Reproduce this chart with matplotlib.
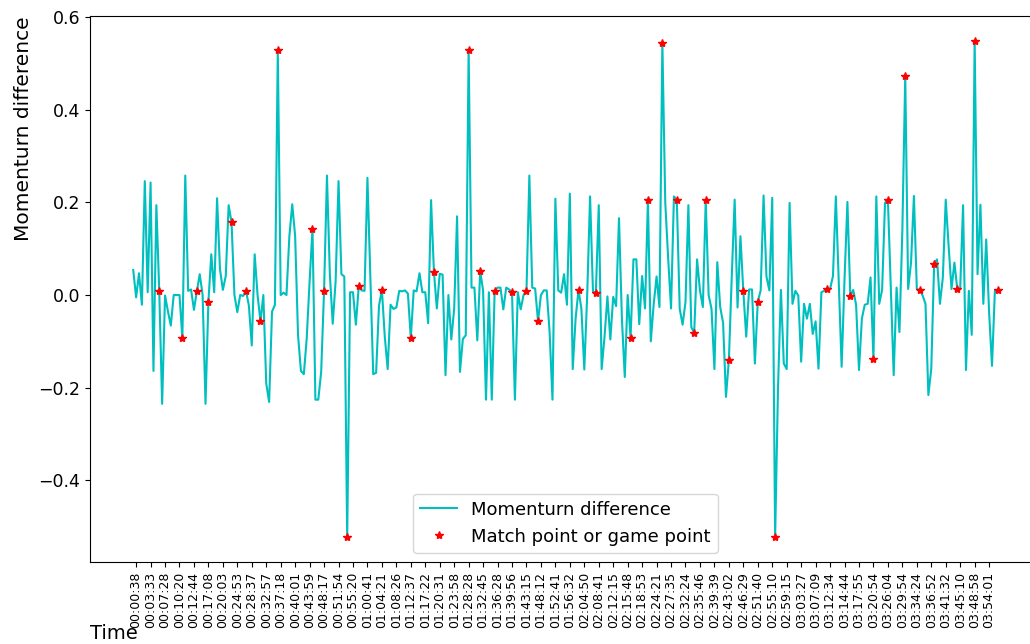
import matplotlib
matplotlib.use('Agg')
import matplotlib.pyplot as plt
import numpy as np

# momentum difference per point
momentum_diff = [
    0.054, -0.005, 0.047, -0.021, 0.246, 0.006, 0.243, -0.164, 0.194, 0.008,
    -0.235, -0.001, -0.035, -0.066, 0.0, 0.0, 0.0, -0.093, 0.258, 0.009,
    0.012, -0.032, 0.008, 0.045, 0.0, -0.235, -0.014, 0.088, 0.006, 0.209,
    0.056, 0.011, 0.041, 0.194, 0.157, 0.0, -0.037, 0.0, -0.002, 0.009,
    -0.023, -0.109, 0.088, 0.0, -0.057, 0.0, -0.191, -0.231, -0.036, -0.021,
    0.529, 0.0, 0.005, 0.0, 0.127, 0.196, 0.127, -0.087, -0.164, -0.171,
    -0.094, 0.03, 0.143, -0.226, -0.226, -0.166, 0.009, 0.258, 0.045, -0.062,
    0.03, 0.246, 0.045, 0.040, -0.523, 0.006, 0.006, -0.064, 0.019, 0.010,
    0.009, 0.253, 0.04, -0.171, -0.168, -0.023, 0.011, -0.09, -0.160, -0.021,
    -0.030, -0.027, 0.009, 0.008, 0.010, 0.003, -0.093, 0.010, 0.008, 0.047,
    0.006, 0.006, -0.061, 0.205, 0.050, -0.029, 0.046, 0.044, -0.173, 0.0,
    -0.096, -0.03, 0.170, -0.166, -0.095, -0.087, 0.529, 0.016, 0.016, -0.098,
    0.051, 0.01, -0.226, 0.006, -0.226, 0.009, 0.016, 0.016, -0.031, 0.016,
    0.012, 0.006, -0.226, 0.006, -0.031, 0.0, 0.008, 0.258, 0.016, 0.014,
    -0.057, 0.0, 0.010, 0.010, -0.08, -0.226, 0.208, 0.010, 0.005, 0.045,
    -0.021, 0.219, -0.160, -0.05, 0.011, -0.03, -0.161, 0.0, 0.213, 0.008,
    0.005, 0.194, -0.160, -0.09, -0.003, -0.096, -0.004, -0.024, 0.166, -0.05,
    -0.177, 0.0, -0.093, 0.077, 0.077, -0.063, 0.041, -0.029, 0.205, -0.100,
    -0.02, 0.040, -0.026, 0.545, 0.2, 0.08, -0.029, 0.213, 0.205, -0.03,
    -0.064, -0.015, 0.194, -0.069, -0.082, 0.077, 0.01, -0.026, 0.205, 0.0,
    -0.03, -0.160, 0.071, -0.026, -0.06, -0.220, -0.141, 0.04, 0.206, -0.027,
    0.127, 0.008, -0.09, 0.012, 0.012, -0.148, -0.014, 0.010, 0.215, 0.04,
    0.010, 0.210, -0.523, -0.2, 0.011, -0.148, -0.160, 0.199, -0.019, 0.009,
    -0.001, -0.144, -0.019, -0.051, -0.019, -0.084, -0.057, -0.159, 0.006, 0.009,
    0.013, 0.013, 0.041, 0.213, 0.03, -0.155, 0.034, 0.201, -0.003, 0.011,
    -0.021, -0.162, -0.051, -0.021, -0.019, 0.038, -0.139, 0.213, -0.019, 0.011,
    0.199, 0.206, 0.016, -0.173, 0.016, -0.080, 0.14, 0.474, 0.013, 0.070,
    0.214, 0.013, 0.011, -0.001, -0.019, -0.216, -0.159, 0.068, 0.077, -0.019,
    0.038, 0.206, 0.106, 0.013, 0.070, 0.013, 0.013, 0.194, -0.162, 0.009,
    -0.086, 0.549, 0.045, 0.195, -0.019, 0.120, -0.037, -0.153, 0.009, 0.011,
]

# indices of match points / game points
key_points = [9, 17, 22, 26, 34, 39, 44, 50, 62, 66, 74, 78, 86, 96, 104,
              116, 120, 125, 131, 136, 140, 154, 160, 172, 178, 183, 188, 194,
              198, 206, 211, 216, 222, 240, 248, 256, 261, 267, 272, 277, 285,
              291, 299]

# elapsed time shown every 5th point
time_labels = [
    '00:00:38', '00:03:33', '00:07:28', '00:10:20', '00:12:44', '00:17:08',
    '00:20:03', '00:24:53', '00:28:37', '00:32:57', '00:37:18', '00:40:01',
    '00:43:59', '00:48:17', '00:51:54', '00:55:20', '01:00:41', '01:04:21',
    '01:08:26', '01:12:37', '01:17:22', '01:20:31', '01:23:58', '01:28:28',
    '01:32:45', '01:36:28', '01:39:56', '01:43:15', '01:48:12', '01:52:41',
    '01:56:32', '02:04:50', '02:08:41', '02:12:15', '02:15:48', '02:18:53',
    '02:24:21', '02:27:35', '02:32:24', '02:35:46', '02:39:39', '02:43:02',
    '02:46:29', '02:51:40', '02:55:10', '02:59:15', '03:03:27', '03:07:09',
    '03:12:34', '03:14:44', '03:17:55', '03:20:54', '03:26:04', '03:29:54',
    '03:34:24', '03:36:52', '03:41:32', '03:45:10', '03:48:58', '03:54:01',
]

x = np.arange(len(momentum_diff))
y = np.array(momentum_diff)
tick_pos = np.arange(1, len(momentum_diff), 5)

fig = plt.figure(figsize=(10.30, 6.44), dpi=100)
ax = fig.add_axes([90/1030, 82/644, 951/1030, 546/644])

ax.plot(x, y, color='c', label='Momenturn difference')
ax.plot(x[key_points], y[key_points], 'r*', label='Match point or game point')

ax.set_xticks(tick_pos)
ax.set_xticklabels(time_labels, rotation=90, fontsize=9)
ax.tick_params(axis='y', labelsize=12.5)
# axis titles sit at the ends of the axes in the original
ax.set_xlabel('Time', fontsize=14, loc='left', labelpad=-3)
ax.set_ylabel('Momenturn difference', fontsize=14.5, loc='top')
ax.legend(loc='lower center', fontsize=13)

fig.savefig('out.png', dpi=100)
